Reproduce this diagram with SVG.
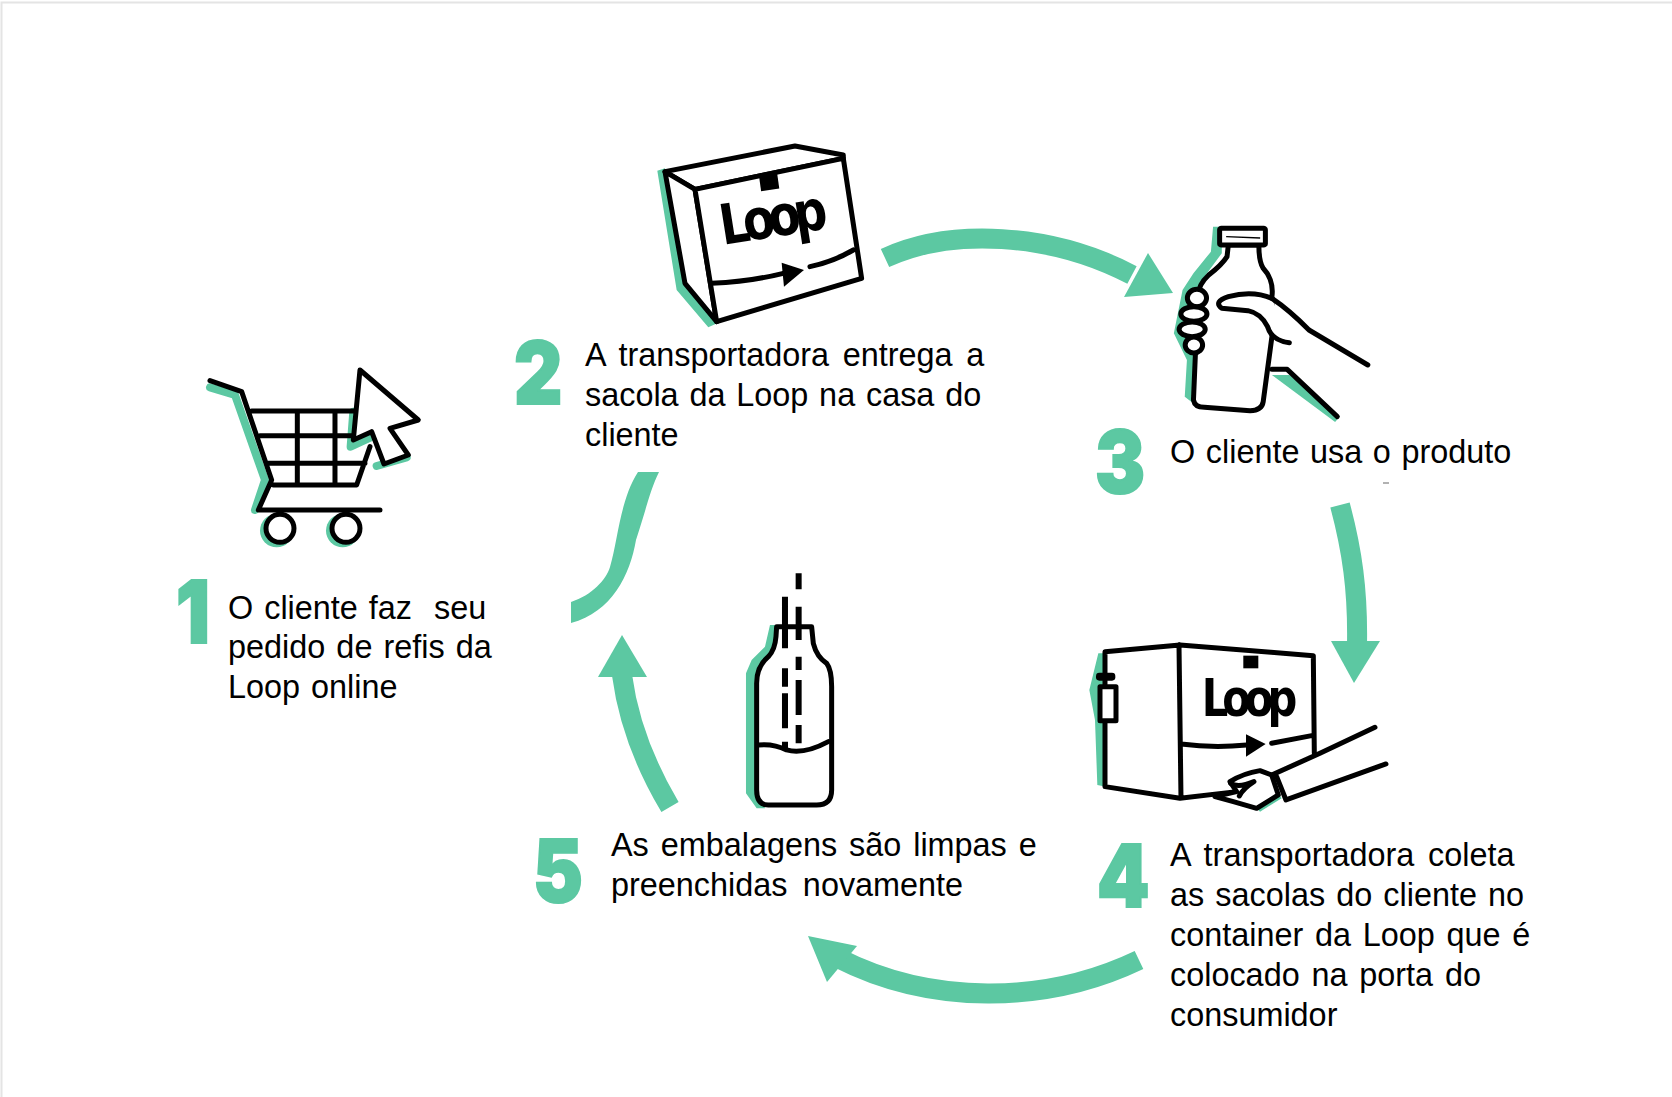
<svg xmlns="http://www.w3.org/2000/svg" width="1672" height="1097" viewBox="0 0 1672 1097">
<defs>
<filter id="soft" x="-5%" y="-5%" width="110%" height="110%"><feGaussianBlur stdDeviation="0.6"/></filter>
<filter id="softi" x="-5%" y="-5%" width="110%" height="110%"><feGaussianBlur stdDeviation="1.8"/></filter>
</defs>
<style>
.t{font-family:"Liberation Sans",Arial,sans-serif;font-size:32.4px;fill:#000;white-space:pre}
.n{font-family:Inter,"Liberation Sans",sans-serif;font-size:87px;font-weight:900;fill:#5bc8a2;stroke:#5bc8a2;stroke-width:2px}
.k{fill:none;stroke:#000;stroke-width:5px;stroke-linecap:round;stroke-linejoin:round;vector-effect:non-scaling-stroke}
.w{fill:#fff;stroke:#000;stroke-width:5px;stroke-linecap:round;stroke-linejoin:round;vector-effect:non-scaling-stroke}
.g{fill:none;stroke:#5bc8a2;stroke-width:5px;stroke-linecap:round;stroke-linejoin:round;vector-effect:non-scaling-stroke}
.f{fill:#5bc8a2;stroke:none}
.b{fill:#000;stroke:none}
.l{font-family:"DejaVu Sans",sans-serif;font-weight:700;fill:#000}
.c{fill:none;stroke:#5bc8a2;stroke-width:20px}
.i{filter:url(#soft)}
.j{filter:url(#softi)}
</style>
<rect x="0" y="0" width="1672" height="1097" fill="#fff"/>
<path d="M1.5,1097V2.5H1672" fill="none" stroke="#e4e4e4" stroke-width="2"/>
<g id="connectors" class="i">
<path class="c" d="M885,258C950,228 1050,232 1132,275"/><polygon class="f" points="1173,293 1148,253 1124,297"/>
<path class="c" d="M1340,505C1352,550 1358,590 1357,645"/><polygon class="f" points="1331,641 1380,641 1354,683"/>
<path class="c" d="M1139,960C1045,1005 930,1005 838,958"/><polygon class="f" points="808,936 857,946 827,982"/>
<path class="c" d="M670,807C645,765 628,720 622,675"/><polygon class="f" points="622,635 598,677 647,677"/>
<path class="f" d="M638,472H659C650,490 646,510 636,540C630,575 612,612 571,623V602C592,595 606,580 610,567C618,540 620,500 638,472Z"/>
</g>
<g id="node1">
<g class="j" transform="translate(180,340) scale(.3333)">
<path class="g" style="stroke-width:8px" d="M90,142L165,165L255,420L225,510M520,215L512,320L572,292M590,378L680,352"/>
<circle class="f" cx="290" cy="572" r="50"/><circle class="f" cx="488" cy="572" r="50"/>
<path class="k" d="M90,122L185,155L275,420L235,510H600M215,213H530M240,287H520M265,370H555M280,435H530L570,320M352,213V435M465,213V435"/>
<circle class="w" cx="300" cy="565" r="42"/><circle class="w" cx="498" cy="565" r="42"/>
<polygon class="w" points="540,90 715,240 630,265 685,345 612,372 575,275 520,300"/>
</g>
<text class="n i" transform="translate(176,643) scale(.86,1)">1</text>
<text class="t" x="228" y="619" word-spacing="2">O cliente faz  seu</text>
<text class="t" x="228" y="658" word-spacing="2.1">pedido de refis da</text>
<text class="t" x="228" y="698" word-spacing="2">Loop online</text>
</g>
<g id="node2">
<g class="j" transform="translate(500,130) scale(.3333)">
<polygon class="f" points="472,122 495,115 560,460 655,578 625,592 530,480"/>
<polygon class="w" points="495,125 885,48 1030,75 1030,85 585,178"/>
<polygon class="w" points="495,125 585,178 650,575 555,460"/>
<polygon class="w" points="585,178 1030,85 1085,445 650,575"/>
<path class="k" d="M635,460Q750,455 850,430M930,410Q1000,395 1060,360"/>
<polygon class="b" points="845,398 912,420 852,470"/>
<rect class="b" x="780" y="135" width="55" height="45" transform="rotate(-8 807 157)"/>
<text class="l" font-size="140" letter-spacing="-19" transform="translate(668,345) rotate(-9) scale(1,1.2)">Loop</text>
</g>
<text class="n i" transform="translate(514,404) scale(.86,1)">2</text>
<text class="t" x="585" y="366" word-spacing="4.6">A transportadora entrega a</text>
<text class="t" x="585" y="406" word-spacing="1.8">sacola da Loop na casa do</text>
<text class="t" x="585" y="446">cliente</text>
</g>
<g id="node3">
<g class="j" transform="translate(860,210) scale(.4359,.3333)">
<path class="f" d="M810,50L830,50L830,130L790,200L780,430L775,590L745,560L750,450L720,370L740,240L765,190L805,125Z"/>
<path class="f" d="M945,495L985,495L1100,620L1090,636Z"/>
<path class="w" d="M845,105L842,140Q830,165 800,195Q775,225 775,260L765,570Q768,592 790,592L895,602Q922,602 925,575L945,380V260Q950,210 925,175Q915,155 915,105Z"/>
<path class="w" d="M945,265Q900,240 845,260Q810,275 830,295L890,302Q920,310 935,350Q945,392 985,398"/>
<path class="k" d="M945,265Q985,300 1030,360L1165,465M945,478H980L1095,620"/>
<rect class="w" x="825" y="55" width="105" height="50" rx="4"/>
<path d="M840,80L918,84" stroke="#000" stroke-width="4" fill="none"/>
<ellipse class="w" cx="773" cy="264" rx="22" ry="26"/><ellipse class="w" cx="766" cy="312" rx="30" ry="22"/>
<ellipse class="w" cx="762" cy="358" rx="30" ry="22"/><ellipse class="w" cx="766" cy="405" rx="20" ry="24"/>
</g>
<text class="n i" transform="translate(1095,493) scale(.86,1)">3</text>
<text class="t" x="1170" y="463" word-spacing="1.6">O cliente usa o produto</text>
<path d="M1383,483H1389" stroke="#999" stroke-width="1.5"/>
</g>
<g id="node4">
<g class="j" transform="translate(1080,490) scale(.3333)">
<path class="f" d="M55,490H80L78,890L52,885L45,690L28,600Z"/>
<path class="f" d="M525,948L590,905L605,925L540,965Z"/>
<path d="M75,485L300,465L700,497L703,790L450,912L300,925L75,890Z" fill="#fff"/>
<path class="k" d="M703,790L700,497L300,465L75,485V890L300,925L470,905M297,465L303,925M303,762Q400,775 500,765M575,760L695,737"/>
<polygon class="b" points="498,733 557,762 498,800"/>
<rect class="b" x="490" y="497" width="45" height="38"/>
<rect class="w" x="60" y="590" width="48" height="102"/>
<rect class="b" x="48" y="548" width="58" height="24" rx="10"/>
<text class="l" font-size="125" letter-spacing="-18" transform="translate(365,678) scale(1,1.25)">Loop</text>
<path class="w" d="M450,875Q490,850 540,842L575,855L595,915L530,955L460,935L405,920L470,905Z"/>
<path class="k" d="M452,880Q475,895 522,875Q490,895 478,918M885,712L720,790L575,855M918,822L618,930L590,860"/>
</g>
<text class="n i" transform="translate(1097,907) scale(.86,1)">4</text>
<text class="t" x="1170" y="866" word-spacing="4.8">A transportadora coleta</text>
<text class="t" x="1170" y="906" word-spacing="2.1">as sacolas do cliente no</text>
<text class="t" x="1170" y="946" word-spacing="2.7">container da Loop que é</text>
<text class="t" x="1170" y="986" word-spacing="2.8">colocado na porta do</text>
<text class="t" x="1170" y="1026">consumidor</text>
</g>
<g id="node5">
<g class="j" transform="translate(560,460) scale(.3333)">
<path class="f" d="M630,495H660L650,560L600,630L600,1000L615,1045H590L558,1000V640L575,600L615,560Z"/>
<path class="w" d="M650,500H755L760,550Q770,590 800,610Q815,630 815,680V990Q815,1035 770,1035H625Q590,1035 590,990V670Q590,620 625,590Q645,570 648,530Z"/>
<path class="k" d="M595,855Q640,850 680,870Q730,885 805,845"/>
<path d="M675,410V565M675,625V680M675,700V805M675,845V870M716,340V388M716,440V540M716,590V630M716,660V765M716,795V850" fill="none" stroke="#000" stroke-width="6" vector-effect="non-scaling-stroke"/>
</g>
<text class="n i" transform="translate(533,902) scale(.86,1)">5</text>
<text class="t" x="611" y="856" word-spacing="2.9">As embalagens são limpas e</text>
<text class="t" x="611" y="896" word-spacing="6.4">preenchidas novamente</text>
</g>
</svg>
